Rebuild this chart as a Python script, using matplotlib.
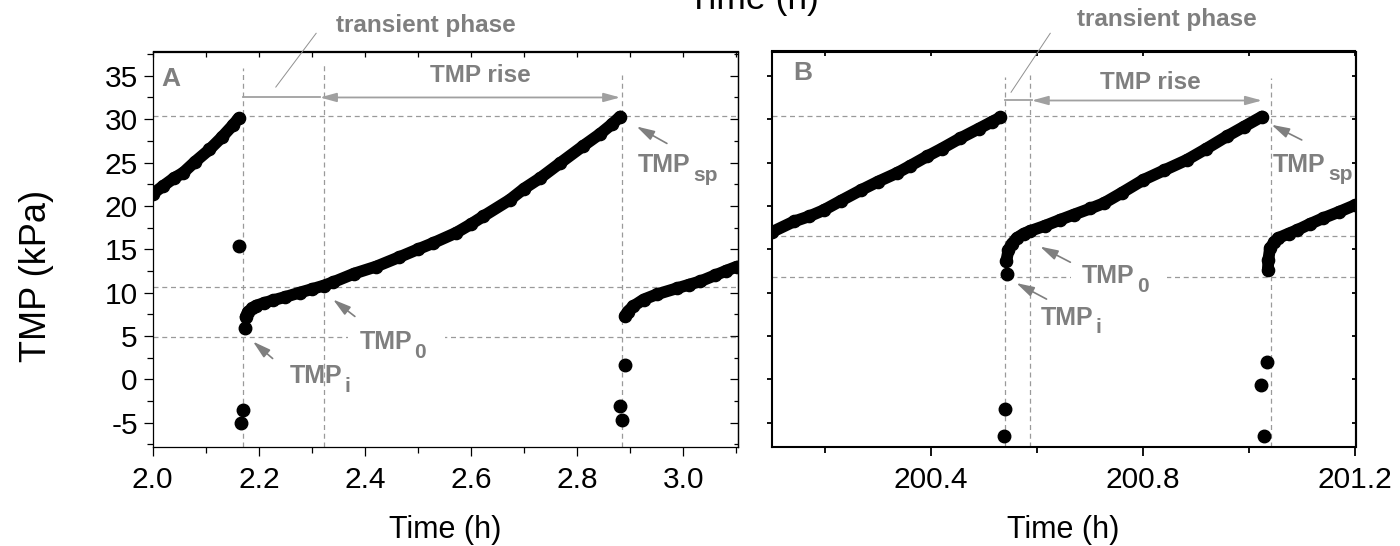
import matplotlib
matplotlib.use('Agg')
import matplotlib.pyplot as plt
from matplotlib.ticker import FixedLocator, NullFormatter

# ---------------- data ----------------
# Panel A : continuous filtration segments
a_seg1_t = [2.000, 2.020, 2.040, 2.057, 2.080, 2.107, 2.130, 2.151, 2.162]
a_seg1_v = [21.4, 22.3, 23.2, 23.8, 25.1, 26.5, 27.9, 29.3, 30.1]
a_seg2_t = [2.175, 2.180, 2.188, 2.195, 2.210, 2.226, 2.250, 2.277, 2.300, 2.322,
            2.340, 2.380, 2.421, 2.465, 2.500, 2.528, 2.572, 2.600, 2.623, 2.673,
            2.700, 2.730, 2.767, 2.811, 2.843, 2.865, 2.881]
a_seg2_v = [7.2, 7.8, 8.2, 8.5, 8.8, 9.1, 9.5, 10.0, 10.4, 10.8,
            11.2, 12.2, 13.0, 14.1, 15.0, 15.7, 16.9, 17.9, 18.8, 20.7,
            22.0, 23.2, 24.9, 26.9, 28.3, 29.4, 30.3]
a_seg3_t = [2.890, 2.895, 2.905, 2.925, 2.950, 2.988, 3.010, 3.032, 3.060, 3.080, 3.101]
a_seg3_v = [7.3, 7.8, 8.4, 9.2, 9.8, 10.5, 10.9, 11.3, 12.0, 12.5, 13.0]
# Panel A : isolated points during backwash / relaxation
a_pts_t = [2.162, 2.167, 2.171, 2.173, 2.881, 2.885, 2.890]
a_pts_v = [15.4, -5.0, -3.5, 5.9, -3.1, -4.7, 1.6]

# Panel B
b_seg1_t = [200.100, 200.141, 200.170, 200.197, 200.230, 200.267, 200.300, 200.336,
            200.360, 200.392, 200.420, 200.455, 200.490, 200.515, 200.531]
b_seg1_v = [17.0, 18.2, 18.8, 19.5, 20.6, 21.8, 22.8, 23.8,
            24.6, 25.7, 26.6, 27.8, 28.9, 29.7, 30.2]
b_seg2_t = [200.542, 200.546, 200.552, 200.562, 200.575, 200.587, 200.615, 200.644,
            200.670, 200.701, 200.726, 200.760, 200.801, 200.840, 200.883, 200.920,
            200.958, 200.990, 201.025]
b_seg2_v = [13.6, 14.9, 15.6, 16.3, 16.8, 17.1, 17.7, 18.4,
            19.0, 19.7, 20.3, 21.5, 23.0, 24.1, 25.3, 26.6,
            28.0, 29.1, 30.3]
b_seg3_t = [201.036, 201.037, 201.040, 201.048, 201.056, 201.075, 201.091, 201.115,
            201.141, 201.170, 201.201]
b_seg3_v = [12.6, 13.8, 15.1, 15.8, 16.3, 16.8, 17.2, 17.9, 18.6, 19.3, 20.1]
b_pts_t = [200.537, 200.540, 200.543, 201.023, 201.029, 201.034]
b_pts_v = [-6.5, -3.45, 12.2, -0.7, -6.5, 2.05]

# Reference (dashed) lines
a_vlines = [2.170, 2.322, 2.884]
a_vtops = [35.9, 36.3, 35.1]
a_hlines = [30.4, 10.6, 4.9]
b_vlines = [200.540, 200.587, 201.042]
b_vtops = [34.9, 35.1, 34.7]
b_hlines = [30.4, 16.55, 11.85]

# Ticks
a_xmajor = [2.0, 2.2, 2.4, 2.6, 2.8, 3.0]
a_xlabels = ['2.0', '2.2', '2.4', '2.6', '2.8', '3.0']
a_xminor = [2.1, 2.3, 2.5, 2.7, 2.9, 3.1]
a_xtop = [2.0, 2.1, 2.2, 2.3, 2.4, 2.5, 2.6, 2.7, 2.8, 2.9, 3.0, 3.1]
b_xmajor = [200.4, 200.8, 201.2]
b_xlabels = ['200.4', '200.8', '201.2']
b_xminor = [200.2, 200.6, 201.0]
b_xtop = [200.2, 200.4, 200.6, 200.8, 201.0, 201.2]
y_major = [-5, 0, 5, 10, 15, 20, 25, 30, 35]
y_labels = ['-5', '0', '5', '10', '15', '20', '25', '30', '35']
y_minor = [-7.5, -2.5, 2.5, 7.5, 12.5, 17.5, 22.5, 27.5, 32.5, 37.5]

# ---------------- style ----------------
plt.rcParams['font.family'] = ['Liberation Sans', 'DejaVu Sans']
GREY = '#7f7f7f'
LGREY = '#a0a0a0'
DGREY = '#9a9a9a'
DASH = (0, (4, 3))

W, H = 1400, 546
fig = plt.figure(figsize=(W / 100, H / 100), dpi=100)
fig.patch.set_facecolor('white')

YLIM = (-7.84, 37.8)
top_px, bot_px = 51.5, 447.3
axA = fig.add_axes([152.7 / W, 1 - bot_px / H, (738.0 - 152.7) / W, (bot_px - top_px) / H])
axB = fig.add_axes([771.7 / W, 1 - bot_px / H, (1355.5 - 771.7) / W, (bot_px - top_px) / H])
axA.set_xlim(2.0, 3.103)
axB.set_xlim(200.099, 201.2015)


def draw_data(ax, segs, pts):
    for t, v in segs:
        ax.plot(t, v, '-o', color='black', lw=8.5, ms=8.8, solid_capstyle='round',
                solid_joinstyle='round', zorder=4)
    ax.plot(pts[0], pts[1], 'o', color='black', ms=9, lw=0, zorder=4)


draw_data(axA, [(a_seg1_t, a_seg1_v), (a_seg2_t, a_seg2_v), (a_seg3_t, a_seg3_v)],
          (a_pts_t, a_pts_v))
draw_data(axB, [(b_seg1_t, b_seg1_v), (b_seg2_t, b_seg2_v), (b_seg3_t, b_seg3_v)],
          (b_pts_t, b_pts_v))

for ax, vls, vtops, hls in [(axA, a_vlines, a_vtops, a_hlines),
                            (axB, b_vlines, b_vtops, b_hlines)]:
    ax.set_ylim(*YLIM)
    for x, ytop in zip(vls, vtops):
        ax.plot([x, x], [YLIM[0], ytop], color=DGREY, lw=0.9, ls=DASH, zorder=1)
    for y in hls:
        ax.axhline(y, color=DGREY, lw=0.9, ls=DASH, zorder=1)

# ---------------- ticks ----------------
TICKFS = 21.5
# A
axA.xaxis.set_major_locator(FixedLocator(a_xmajor))
axA.set_xticklabels(a_xlabels)
axA.xaxis.set_minor_locator(FixedLocator(a_xminor))
axA.yaxis.set_major_locator(FixedLocator(y_major))
axA.set_yticklabels(y_labels)
axA.yaxis.set_minor_locator(FixedLocator(y_minor))
axA.tick_params(axis='x', which='major', direction='out', length=6.7, width=0.9,
                labelsize=TICKFS, pad=7)
axA.tick_params(axis='x', which='minor', direction='out', length=4.3, width=0.9)
axA.tick_params(axis='y', which='major', direction='out', length=6.7, width=0.9,
                labelsize=TICKFS, pad=4)
axA.tick_params(axis='y', which='minor', direction='out', length=4.3, width=0.9)
for s in axA.spines.values():
    s.set_linewidth(0.9)
topA = axA.secondary_xaxis('top')
topA.xaxis.set_major_locator(FixedLocator(a_xtop))
topA.xaxis.set_major_formatter(NullFormatter())
topA.tick_params(direction='in', length=4, width=0.9)
rightA = axA.secondary_yaxis('right')
rightA.yaxis.set_major_locator(FixedLocator(y_major))
rightA.yaxis.set_minor_locator(FixedLocator(y_minor))
rightA.yaxis.set_major_formatter(NullFormatter())
rightA.tick_params(which='major', direction='in', length=5.5, width=0.9)
rightA.tick_params(which='minor', direction='in', length=3, width=0.9)
for sa in (topA, rightA):
    for s in sa.spines.values():
        s.set_linewidth(0.9)

# B
axB.xaxis.set_major_locator(FixedLocator(b_xmajor))
axB.set_xticklabels(b_xlabels)
axB.xaxis.set_minor_locator(FixedLocator(b_xminor))
axB.yaxis.set_major_locator(FixedLocator(y_major))
axB.yaxis.set_major_formatter(NullFormatter())
axB.tick_params(axis='x', which='major', direction='out', length=6.7, width=1.3,
                labelsize=TICKFS, pad=7)
axB.tick_params(axis='x', which='minor', direction='out', length=4.3, width=1.3)
axB.tick_params(axis='y', which='major', direction='out', length=3.6, width=1.3)
for s in axB.spines.values():
    s.set_linewidth(1.5)
topB = axB.secondary_xaxis('top')
topB.xaxis.set_major_locator(FixedLocator(b_xtop))
topB.xaxis.set_major_formatter(NullFormatter())
topB.tick_params(direction='in', length=3.6, width=1.3)
rightB = axB.secondary_yaxis('right')
rightB.yaxis.set_major_locator(FixedLocator(y_major))
rightB.yaxis.set_major_formatter(NullFormatter())
rightB.tick_params(direction='in', length=3, width=1.3)
for sa in (topB, rightB):
    for s in sa.spines.values():
        s.set_linewidth(1.5)

# ---------------- annotations ----------------
AFS = 18
SUBFS = 15


def tmp_label(ax, x, y, sub, boxed=False):
    kw = dict(fontsize=AFS, fontweight='bold', ha='left', va='baseline')
    skw = dict(fontsize=SUBFS, fontweight='bold', ha='left', va='baseline',
               textcoords='offset points')
    if boxed:
        # white background boxes (interrupt the dashed guide line), drawn below the text
        tb = ax.text(x, y, 'TMP', color='white', zorder=4.5,
                     bbox=dict(boxstyle='square,pad=0.45', fc='white', ec='none'), **kw)
        ax.annotate(sub, xy=(1, 0), xycoords=tb, xytext=(1.5, -2.6), color='white',
                    zorder=4.5,
                    bbox=dict(boxstyle='square,pad=0.9', fc='white', ec='none'), **skw)
    t = ax.text(x, y, 'TMP', color=GREY, zorder=5, **kw)
    ax.annotate(sub, xy=(1, 0), xycoords=t, xytext=(1.5, -2.6), color=GREY, zorder=5,
                **skw)


def pointer(ax, tail, tip):
    ax.annotate('', xy=tip, xytext=tail, zorder=6,
                arrowprops=dict(arrowstyle='-|>,head_length=0.6,head_width=0.17',
                                mutation_scale=18, color=GREY, lw=1.2,
                                shrinkA=0, shrinkB=0))


def rise(ax, x0, x1, x2, y):
    ax.plot([x0, x1], [y, y], color=LGREY, lw=1.3, zorder=3)
    ax.annotate('', xy=(x2, y), xytext=(x1, y), zorder=3,
                arrowprops=dict(arrowstyle='<|-|>,head_length=0.55,head_width=0.15',
                                mutation_scale=18, color=LGREY, lw=1.3,
                                shrinkA=0, shrinkB=0))


# Panel A
axA.text(2.016, 33.85, 'A', fontsize=19, fontweight='bold', color=GREY,
         ha='left', va='baseline')
axA.text(2.515, 40.1, 'transient phase', fontsize=17.5, fontweight='bold', color=GREY,
         ha='center', va='baseline', clip_on=False)
axA.plot([2.308, 2.232], [39.9, 33.7], color='#909090', lw=0.7, clip_on=False, zorder=3)
rise(axA, 2.170, 2.315, 2.881, 32.5)
axA.text(2.618, 34.23, 'TMP rise', fontsize=17.5, fontweight='bold', color=GREY,
         ha='center', va='baseline')
tmp_label(axA, 2.915, 23.85, 'sp')
pointer(axA, (2.969, 27.2), (2.912, 29.15))
tmp_label(axA, 2.390, 3.48, '0', boxed=True)
pointer(axA, (2.381, 7.25), (2.340, 9.2))
tmp_label(axA, 2.258, -0.45, 'i')
pointer(axA, (2.226, 2.4), (2.189, 4.35))

# Panel B
axB.text(200.140, 34.54, 'B', fontsize=19, fontweight='bold', color=GREY,
         ha='left', va='baseline')
axB.text(200.845, 40.7, 'transient phase', fontsize=17.5, fontweight='bold', color=GREY,
         ha='center', va='baseline', clip_on=False)
axB.plot([200.625, 200.551], [39.9, 33.1], color='#909090', lw=0.7, clip_on=False,
         zorder=3)
rise(axB, 200.540, 200.590, 201.025, 32.15)
axB.text(200.815, 33.47, 'TMP rise', fontsize=17.5, fontweight='bold', color=GREY,
         ha='center', va='baseline')
tmp_label(axB, 201.046, 23.96, 'sp')
pointer(axB, (201.100, 27.6), (201.043, 29.35))
tmp_label(axB, 200.685, 11.1, '0', boxed=True)
pointer(axB, (200.663, 13.5), (200.606, 15.3))
tmp_label(axB, 200.608, 6.28, 'i')
pointer(axB, (200.618, 9.25), (200.561, 11.1))

# ---------------- axis titles ----------------
fig.text(445.3 / W, 1 - 538 / H, 'Time (h)', fontsize=22, ha='center', va='baseline')
fig.text(1063.6 / W, 1 - 538 / H, 'Time (h)', fontsize=22, ha='center', va='baseline')
# top title, cut by the upper edge exactly as in the reference
fig.text(753 / W, 1 - 9 / H, 'Time (h)', fontsize=25.5, ha='center', va='baseline')
fig.text(37 / W, 1 - 276 / H, 'TMP (kPa)', fontsize=26, rotation=90,
         ha='center', va='center')

fig.savefig('out.png', dpi=100, facecolor='white')
